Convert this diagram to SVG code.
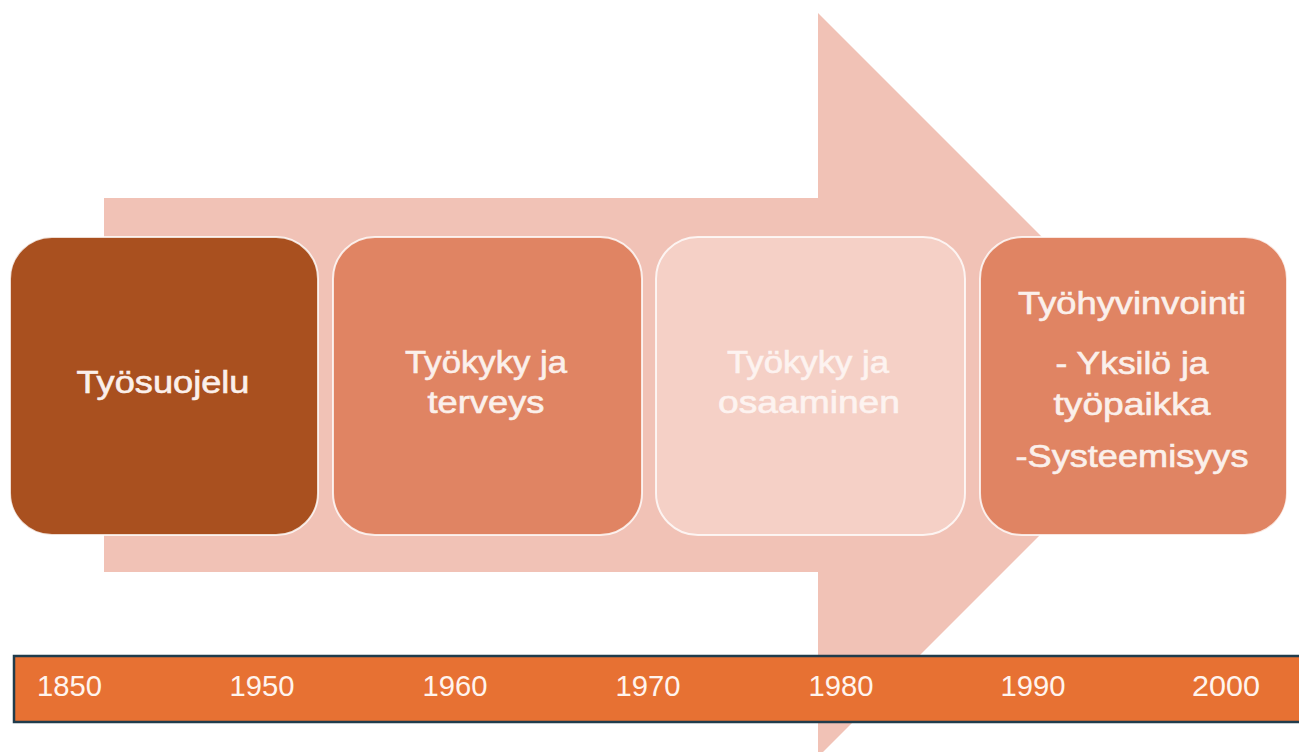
<svg xmlns="http://www.w3.org/2000/svg" width="1299" height="752" viewBox="0 0 1299 752">
  <style>
    .box { stroke: #ffffff; stroke-opacity: 0.8; stroke-width: 2; }
    .lbl { font-family: "Liberation Sans", Arial, sans-serif; font-size: 31px; text-anchor: middle; fill: #FBF0EB; stroke: #FBF0EB; stroke-width: 0.6; }
    .faint { fill: #FDF3F0; stroke: #FDF3F0; }
    .yr { font-family: "Liberation Sans", Arial, sans-serif; font-size: 30px; text-anchor: middle; fill: #FFF4EE; }
  </style>
  <rect width="1299" height="752" fill="#ffffff"/>

  <!-- background arrow -->
  <g id="arrow">
    <polygon points="104,198 818,198 818,13 1190,385 818,757 818,572 104,572" fill="#F1C2B6"/>
  </g>

  <!-- stage boxes -->
  <g id="node-tyosuojelu">
    <rect class="box" x="10" y="237" width="308" height="298" rx="42" fill="#A9501F"/>
    <text class="lbl" x="163" y="393" textLength="173" lengthAdjust="spacingAndGlyphs">Työsuojelu</text>
  </g>
  <g id="node-terveys">
    <rect class="box" x="333" y="237" width="309" height="298" rx="42" fill="#E08463"/>
    <text class="lbl" x="486" y="373" textLength="162" lengthAdjust="spacingAndGlyphs">Työkyky ja</text>
    <text class="lbl" x="486" y="413" textLength="117" lengthAdjust="spacingAndGlyphs">terveys</text>
  </g>
  <g id="node-osaaminen">
    <rect class="box" x="656" y="237" width="309" height="298" rx="42" fill="#F5D0C6"/>
    <text class="lbl faint" x="808" y="373" textLength="162" lengthAdjust="spacingAndGlyphs">Työkyky ja</text>
    <text class="lbl faint" x="809" y="413" textLength="182" lengthAdjust="spacingAndGlyphs">osaaminen</text>
  </g>
  <g id="node-tyohyvinvointi">
    <rect class="box" x="980" y="237" width="307" height="298" rx="42" fill="#E08463"/>
    <text class="lbl" x="1132" y="314" textLength="228" lengthAdjust="spacingAndGlyphs">Työhyvinvointi</text>
    <text class="lbl" x="1132" y="374" textLength="153" lengthAdjust="spacingAndGlyphs">- Yksilö ja</text>
    <text class="lbl" x="1132" y="415" textLength="157" lengthAdjust="spacingAndGlyphs">työpaikka</text>
    <text class="lbl" x="1132" y="467" textLength="233" lengthAdjust="spacingAndGlyphs">-Systeemisyys</text>
  </g>

  <!-- timeline bar -->
  <g id="timeline">
    <rect x="14" y="656" width="1300" height="66" fill="#E77133" stroke="#203C4C" stroke-width="2.5"/>
    <text class="yr" x="69.5" y="696" textLength="65" lengthAdjust="spacingAndGlyphs">1850</text>
    <text class="yr" x="262" y="696" textLength="65" lengthAdjust="spacingAndGlyphs">1950</text>
    <text class="yr" x="455" y="696" textLength="65" lengthAdjust="spacingAndGlyphs">1960</text>
    <text class="yr" x="648" y="696" textLength="65" lengthAdjust="spacingAndGlyphs">1970</text>
    <text class="yr" x="841" y="696" textLength="65" lengthAdjust="spacingAndGlyphs">1980</text>
    <text class="yr" x="1033" y="696" textLength="65" lengthAdjust="spacingAndGlyphs">1990</text>
    <text class="yr" x="1226" y="696" textLength="68" lengthAdjust="spacingAndGlyphs">2000</text>
  </g>
</svg>
